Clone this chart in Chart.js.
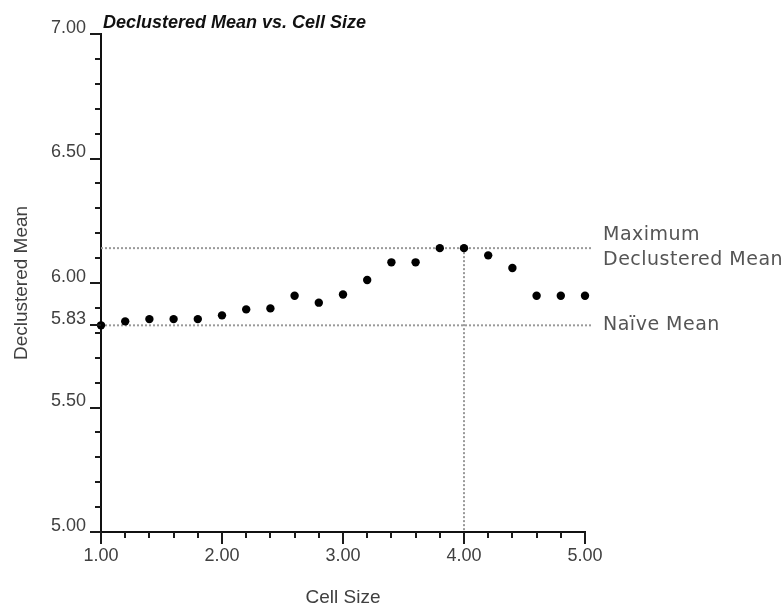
<!DOCTYPE html>
<html lang="en">
<head>
    <meta charset="UTF-8">
    <title>Declustered Mean vs. Cell Size</title>
    <script src="https://cdn.jsdelivr.net/npm/chart.js"></script>
    <style>
        * {
            margin: 0;
            padding: 0;
            box-sizing: border-box;
        }

        body {
            background: #fff;
            width: 783px;
            height: 609px;
            overflow: hidden;
        }

        canvas {
            display: block;
        }
    </style>
</head>
<body>
    <canvas id="declus-chart" width="783" height="609"></canvas>

    <script>
        // Cell sizes tried and the declustered mean obtained for each
        const cellSizes = [1.0, 1.2, 1.4, 1.6, 1.8, 2.0, 2.2, 2.4, 2.6, 2.8, 3.0,
                           3.2, 3.4, 3.6, 3.8, 4.0, 4.2, 4.4, 4.6, 4.8, 5.0];
        const declusteredMeans = [5.83, 5.846, 5.855, 5.855, 5.855, 5.870, 5.894, 5.898, 5.949, 5.921, 5.954,
                                  6.012, 6.083, 6.083, 6.14, 6.14, 6.111, 6.060, 5.949, 5.949, 5.949];

        // Reference levels
        const naiveMean = 5.83;
        const maxDeclusteredMean = 6.14;
        const bestCellSize = 4.0;
        const refLineSpan = [1.0, 5.06];

        // Axis ranges and labelled ticks
        const xRange = [1.0, 5.0];
        const yRange = [5.0, 7.0];
        const xTickLabels = [1.0, 2.0, 3.0, 4.0, 5.0];
        const yTickLabels = [5.0, 5.5, 5.83, 6.0, 6.5, 7.0];
        const xMinorStep = 0.2;
        const yMinorStep = 0.1;

        function stepTicks(range, step, extra) {
            const n = Math.round((range[1] - range[0]) / step);
            const vals = [];
            for (let i = 0; i <= n; i++) {
                vals.push(Math.round((range[0] + i * step) * 1000) / 1000);
            }
            extra.forEach(v => { if (!vals.some(u => Math.abs(u - v) < 1e-6)) vals.push(v); });
            return vals.sort((a, b) => a - b);
        }

        function isLabelled(v, list) {
            return list.some(l => Math.abs(l - v) < 1e-6);
        }

        const tickFont = { family: '"Liberation Sans", Arial, sans-serif', size: 18 };
        const axisTitleFont = { family: '"Liberation Sans", Arial, sans-serif', size: 19 };

        // Tick marks (long where labelled), title and the right-hand notes
        const decorations = {
            id: 'decorations',
            afterDraw(chart) {
                const { ctx, chartArea, scales: { x, y } } = chart;
                ctx.save();

                ctx.strokeStyle = '#1a1a1a';
                ctx.lineWidth = 2;
                ctx.beginPath();
                x.ticks.forEach(t => {
                    const px = Math.round(x.getPixelForValue(t.value));
                    const len = t.label ? 12 : 6;
                    ctx.moveTo(px, chartArea.bottom);
                    ctx.lineTo(px, chartArea.bottom + len);
                });
                y.ticks.forEach(t => {
                    const py = Math.round(y.getPixelForValue(t.value));
                    const len = t.label ? 11 : 6;
                    ctx.moveTo(chartArea.left - len, py);
                    ctx.lineTo(chartArea.left, py);
                });
                ctx.stroke();

                ctx.font = 'italic bold 18px "Liberation Sans", Arial, sans-serif';
                ctx.fillStyle = '#111';
                ctx.textAlign = 'left';
                ctx.textBaseline = 'alphabetic';
                ctx.fillText('Declustered Mean vs. Cell Size', chartArea.left + 2, 28);

                ctx.font = '19px "DejaVu Sans", sans-serif';
                ctx.letterSpacing = '0.5px';
                ctx.fillStyle = '#555';
                ctx.textBaseline = 'middle';
                const tx = chartArea.right + 18;
                const yMax = y.getPixelForValue(maxDeclusteredMean);
                ctx.fillText('Maximum', tx, yMax - 13);
                ctx.fillText('Declustered Mean', tx, yMax + 12);
                ctx.fillText('Naïve Mean', tx, y.getPixelForValue(naiveMean));

                ctx.restore();
            }
        };

        const refLineStyle = {
            showLine: true,
            borderColor: '#9a9a9a',
            borderWidth: 2,
            borderDash: [2, 2],
            pointRadius: 0,
            clip: false,
            order: 1
        };

        const ctx = document.getElementById('declus-chart').getContext('2d');
        new Chart(ctx, {
            type: 'scatter',
            data: {
                datasets: [
                    {
                        label: 'Declustered mean',
                        data: cellSizes.map((x, i) => ({ x, y: declusteredMeans[i] })),
                        pointRadius: 4.2,
                        pointBackgroundColor: '#000',
                        pointBorderWidth: 0,
                        clip: false,
                        order: 0
                    },
                    {
                        ...refLineStyle,
                        label: 'Maximum declustered mean',
                        data: refLineSpan.map(x => ({ x, y: maxDeclusteredMean }))
                    },
                    {
                        ...refLineStyle,
                        label: 'Naive mean',
                        data: refLineSpan.map(x => ({ x, y: naiveMean }))
                    },
                    {
                        ...refLineStyle,
                        label: 'Best cell size',
                        data: [{ x: bestCellSize, y: maxDeclusteredMean }, { x: bestCellSize, y: yRange[0] }]
                    }
                ]
            },
            options: {
                responsive: false,
                animation: false,
                devicePixelRatio: 1,
                layout: { padding: { left: 0, top: 34, right: 198, bottom: 0 } },
                plugins: {
                    legend: { display: false },
                    tooltip: { enabled: false },
                    title: { display: false }
                },
                scales: {
                    x: {
                        type: 'linear',
                        min: xRange[0],
                        max: xRange[1],
                        grid: { display: false, drawTicks: false },
                        border: { display: true, color: '#111', width: 2 },
                        afterBuildTicks: s => { s.ticks = stepTicks(xRange, xMinorStep, []).map(v => ({ value: v })); },
                        afterFit: s => { s.height = 77; },
                        ticks: {
                            autoSkip: false,
                            maxRotation: 0,
                            padding: 13,
                            color: '#404040',
                            font: tickFont,
                            callback: v => isLabelled(v, xTickLabels) ? v.toFixed(2) : ''
                        },
                        title: {
                            display: true,
                            text: 'Cell Size',
                            color: '#404040',
                            font: axisTitleFont,
                            padding: { top: 0, bottom: 0 }
                        }
                    },
                    y: {
                        type: 'linear',
                        min: yRange[0],
                        max: yRange[1],
                        grid: { display: false, drawTicks: false },
                        border: { display: true, color: '#111', width: 2 },
                        afterBuildTicks: s => { s.ticks = stepTicks(yRange, yMinorStep, yTickLabels).map(v => ({ value: v })); },
                        afterFit: s => { s.width = 101; },
                        ticks: {
                            autoSkip: false,
                            padding: 15,
                            labelOffset: -6,
                            color: '#404040',
                            font: tickFont,
                            callback: v => isLabelled(v, yTickLabels) ? v.toFixed(2) : ''
                        },
                        title: {
                            display: true,
                            text: 'Declustered Mean',
                            color: '#404040',
                            font: axisTitleFont,
                            padding: { top: 10, bottom: 0 }
                        }
                    }
                }
            },
            plugins: [decorations]
        });
    </script>
</body>
</html>
